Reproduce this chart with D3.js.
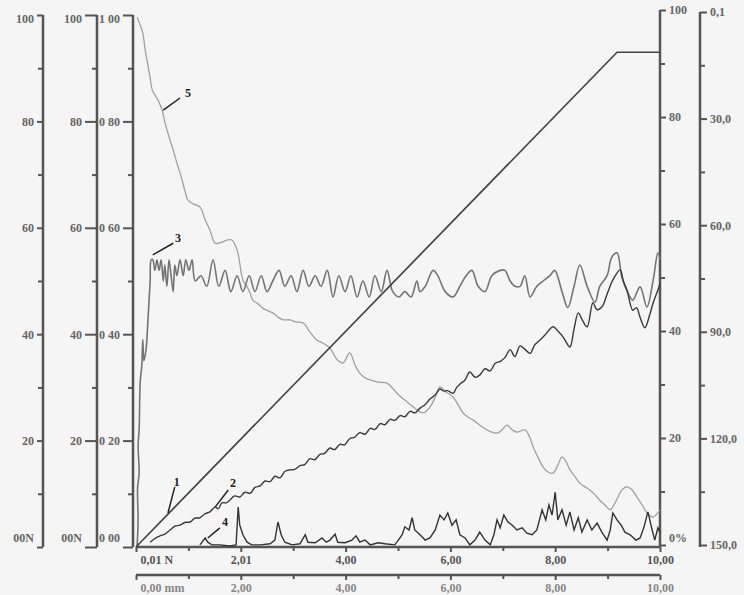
<!DOCTYPE html>
<html>
<head>
<meta charset="utf-8">
<script src="https://cdn.jsdelivr.net/npm/d3@7"></script>
<style>
body{margin:0;background:#f5f5f5}
svg{display:block}
text{font-family:"Liberation Serif","DejaVu Serif",serif;font-weight:bold}
</style>
</head>
<body>
<svg id="chart" width="744" height="595"></svg>
<script>
'use strict'

// tick values and labels
var leftMajor = [0,20,40,60,80,100];
var leftMinor = [10,30,50,70,90];
var leftLabels1 = ['00N','20','40','60','80','100'];
var leftLabels3 = ['0 00','0 20','0 40','0 60','0 80','1 00'];
var rightLabels1 = ['0%','20','40','60','80','100'];
var angleMajor = [0,30,60,90,120,150];
var angleMinor = [15,45,75,105,135];
var angleLabels = ['0,1','30,0','60,0','90,0','120,0','150,0'];
var xMajor = [0,2,4,6,8,10];
var xMinor = [1,3,5,7,9];
var xLabelsN = ['0,01 N','2,01','4,00','6,00','8,00','10,00'];
var xLabelsMm = ['0,00 mm','2,00','4,00','6,00','8,00','10,00'];

// curves, x in mm, y in % of scale
var curve1 = [[0,0],[9.18,93],[10,93]];
var curve2 = [[0.27,0.9],[0.36,1.6],[0.46,2.1],[0.55,2.4],[0.65,3.2],[0.74,3.9],[0.84,4.1],[0.93,4.6],[1.03,4.7],[1.12,5.4],[1.22,5.5],[1.31,6.2],[1.41,6.6],[1.51,7.5],[1.57,7.2],[1.64,8.3],[1.72,8.3],[1.79,8.8],[1.88,9.6],[1.98,9.4],[2.08,10.3],[2.18,10.1],[2.27,11.2],[2.37,11.5],[2.46,12.4],[2.56,12.3],[2.65,13.3],[2.75,13.0],[2.84,14.2],[2.94,14.5],[3.03,14.6],[3.13,15.3],[3.22,15.5],[3.32,16.6],[3.41,16.4],[3.51,17.4],[3.60,17.6],[3.70,18.6],[3.79,18.3],[3.89,19.3],[3.98,19.2],[4.08,20.4],[4.17,20.6],[4.27,21.5],[4.37,21.2],[4.47,22.3],[4.56,22.1],[4.66,23.2],[4.75,23.0],[4.85,24.0],[4.94,23.8],[5.04,24.7],[5.13,24.5],[5.23,25.5],[5.32,25.2],[5.42,26.1],[5.52,26.8],[5.61,27.8],[5.71,28.6],[5.80,29.7],[5.87,29.3],[5.94,29.4],[6.05,28.9],[6.12,30.0],[6.18,30.6],[6.28,31.4],[6.37,32.9],[6.47,31.9],[6.56,32.3],[6.66,33.5],[6.76,33.1],[6.85,34.5],[6.95,34.9],[7.04,35.6],[7.14,37.1],[7.23,35.8],[7.33,37.8],[7.42,37.2],[7.52,36.4],[7.61,38.0],[7.71,38.9],[7.80,39.8],[7.96,41.4],[8.05,40.6],[8.15,39.5],[8.28,37.6],[8.36,41.0],[8.44,44.0],[8.52,42.6],[8.61,41.4],[8.72,45.9],[8.80,44.6],[8.89,45.1],[9.00,47.8],[9.10,50.2],[9.24,52.1],[9.30,50.0],[9.37,48.3],[9.48,44.5],[9.55,45.0],[9.62,43.2],[9.71,41.2],[9.80,43.5],[9.87,45.9],[9.96,48.3],[10.0,49.5]];
var curve3 = [[0.02,0],[0.04,5],[0.03,11],[0.06,14],[0.04,19],[0.06,22],[0.08,31],[0.11,34],[0.13,39],[0.15,35],[0.19,37],[0.23,43],[0.27,50],[0.29,54],[0.32,54],[0.36,52],[0.40,54],[0.44,52],[0.48,54],[0.52,50],[0.55,53],[0.59,49],[0.63,54],[0.67,51],[0.71,48],[0.74,53],[0.78,51],[0.84,54],[0.90,51],[0.95,54],[1.01,52],[1.07,54],[1.13,50],[1.24,51],[1.35,49],[1.47,54],[1.58,49],[1.70,52],[1.81,48],[1.93,51],[2.04,48],[2.16,51],[2.27,48],[2.39,51],[2.50,48],[2.61,50],[2.73,52],[2.84,49],[2.96,51],[3.07,48],[3.19,52],[3.30,49],[3.42,51],[3.53,49],[3.65,52],[3.76,47],[3.87,51],[3.99,48],[4.10,51],[4.22,47],[4.33,50],[4.45,47],[4.56,51],[4.68,48],[4.79,52],[4.90,48],[5.02,47],[5.13,48],[5.25,47],[5.36,50],[5.42,48],[5.52,49],[5.67,52],[5.76,51],[5.90,48],[6.05,47],[6.18,49],[6.30,51],[6.41,52],[6.53,49],[6.66,48],[6.79,51],[6.95,52],[7.04,52],[7.14,50],[7.23,49],[7.33,49],[7.42,51],[7.52,47],[7.65,49],[7.77,50],[7.90,51],[7.99,52],[8.13,48],[8.24,45],[8.36,49],[8.47,53],[8.61,49],[8.76,46],[8.85,49],[8.99,51],[9.08,54.5],[9.18,55.3],[9.27,50.8],[9.39,47.7],[9.48,46.4],[9.62,48.9],[9.75,45.1],[9.87,50.2],[9.96,55.3],[10.0,54]];
var curve4 = [[1.22,0.4],[1.32,1.7],[1.37,0.9],[1.45,0.4],[1.60,0.4],[1.79,0.2],[1.91,0.4],[1.95,7.5],[1.98,4.1],[2.04,2.3],[2.12,0.9],[2.21,0.4],[2.37,0.4],[2.56,0.6],[2.65,1.3],[2.71,4.7],[2.77,2.3],[2.84,0.9],[2.98,0.4],[3.13,0.6],[3.23,2.3],[3.28,0.9],[3.42,0.8],[3.55,1.7],[3.63,0.9],[3.70,1.3],[3.80,2.4],[3.85,0.9],[3.99,0.8],[4.12,1.3],[4.20,2.1],[4.27,0.9],[4.37,1.3],[4.47,0.4],[4.62,0.8],[4.75,0.6],[4.94,0.4],[5.08,2.3],[5.13,3.8],[5.21,3.2],[5.27,5.5],[5.32,3.2],[5.42,2.3],[5.52,1.3],[5.61,1.7],[5.71,3.2],[5.80,6.0],[5.88,5.1],[5.95,6.4],[6.03,4.1],[6.11,5.1],[6.18,2.3],[6.28,1.7],[6.37,0.4],[6.47,1.3],[6.56,2.8],[6.66,1.3],[6.76,0.4],[6.83,2.3],[6.89,5.1],[6.95,3.6],[7.02,6.0],[7.10,4.7],[7.18,4.1],[7.27,3.2],[7.37,3.6],[7.46,2.6],[7.56,2.3],[7.65,3.2],[7.75,7.0],[7.82,5.1],[7.88,7.9],[7.94,6.0],[8.00,10.3],[8.05,5.1],[8.13,7.0],[8.21,4.1],[8.28,6.6],[8.36,3.2],[8.44,5.5],[8.51,2.8],[8.61,5.1],[8.70,3.2],[8.80,4.5],[8.89,2.8],[8.99,1.3],[9.05,3.2],[9.10,6.4],[9.18,5.1],[9.26,4.1],[9.33,2.8],[9.43,2.3],[9.54,1.3],[9.62,1.7],[9.69,3.6],[9.77,6.6],[9.85,3.2],[9.90,1.3],[9.96,3.6],[10.0,2.8]];
var curve5 = [[0.02,99.6],[0.08,98.1],[0.13,96.6],[0.17,93.8],[0.21,91.5],[0.27,88.2],[0.31,85.9],[0.36,85.0],[0.42,84.0],[0.50,82.1],[0.55,79.9],[0.59,78.4],[0.65,76.5],[0.71,74.6],[0.78,72.2],[0.88,69.0],[0.94,66.7],[0.99,65.2],[1.09,64.5],[1.22,63.9],[1.32,61.5],[1.41,59.6],[1.51,57.1],[1.64,57.3],[1.74,57.7],[1.83,57.7],[1.93,55.8],[2.04,50.2],[2.12,48.9],[2.18,47.7],[2.23,46.4],[2.33,45.7],[2.42,44.9],[2.52,44.4],[2.61,44.0],[2.71,43.2],[2.81,42.7],[2.94,42.7],[3.05,42.3],[3.19,42.1],[3.32,40.4],[3.45,38.9],[3.57,38.3],[3.70,37.4],[3.84,35.2],[3.95,34.6],[4.08,36.5],[4.18,34.2],[4.27,32.7],[4.37,31.8],[4.47,31.4],[4.62,31.0],[4.79,30.8],[4.89,29.9],[4.98,28.9],[5.08,28.0],[5.17,27.3],[5.27,26.5],[5.36,25.8],[5.48,25.2],[5.61,26.3],[5.73,28.6],[5.80,30.1],[5.92,29.1],[6.05,28.2],[6.15,26.7],[6.24,25.2],[6.34,24.4],[6.43,23.9],[6.56,22.9],[6.70,22.0],[6.79,21.6],[6.89,21.4],[6.98,22.0],[7.08,22.9],[7.18,22.0],[7.27,21.6],[7.42,22.0],[7.52,20.5],[7.58,18.8],[7.67,16.9],[7.77,15.0],[7.86,14.1],[7.96,13.9],[8.05,15.4],[8.13,16.9],[8.21,16.0],[8.28,14.5],[8.38,13.2],[8.47,12.0],[8.57,11.3],[8.66,10.7],[8.76,9.8],[8.85,8.8],[8.95,7.9],[9.05,7.0],[9.12,7.9],[9.20,9.4],[9.27,10.7],[9.37,11.3],[9.47,10.7],[9.56,9.4],[9.66,7.9],[9.75,6.4],[9.87,5.6],[9.94,6.2],[10.0,7.0]];

// curve number callouts: label, text point, pointer start, pointer end
var callouts = [
  ['1',[0.78,12.2],[0.74,11.3],[0.61,6.4]],
  ['2',[1.85,12.0],[1.76,10.7],[1.51,7.5]],
  ['3',[0.80,58.1],[0.71,57.1],[0.32,54.9]],
  ['4',[1.70,4.7],[1.60,3.6],[1.37,1.7]],
  ['5',[0.99,85.3],[0.84,84.4],[0.52,82.1]]
];

var svg = d3.select('#chart');
svg.append('rect').attr('width',744).attr('height',595).attr('fill','#f5f5f5');

var x = d3.scaleLinear().domain([0,10]).range([136,660]);
var y = d3.scaleLinear().domain([0,100]).range([547,15]);
var y3 = d3.scaleLinear().domain([0,1]).range([547,15]);
var yR = d3.scaleLinear().domain([0,100]).range([545,10]);
var yA = d3.scaleLinear().domain([0,150]).range([12,545]);

var axisColor = '#555';

function styleAxis(g, color){
	g.select('.domain').remove();
	g.selectAll('.tick line').attr('stroke',axisColor).attr('stroke-width',2);
	g.selectAll('.tick text').attr('fill',color).style('font-size','12px');
}

function vAxis(xPos, scale, major, minor, labels, side, majorSize, shift){
	var mk = side=='left' ? d3.axisLeft : d3.axisRight;
	var g = svg.append('g').attr('transform','translate('+xPos+',0)');
	g.call(mk(scale).tickValues(major).tickSize(majorSize).tickPadding(3)
		.tickFormat(function(d,i){return labels[i];}));
	styleAxis(g,'#666');
	var gm = svg.append('g').attr('transform','translate('+xPos+',0)');
	gm.call(mk(scale).tickValues(minor).tickSize(5).tickFormat(''));
	styleAxis(gm,'#666');
	var r = scale.range();
	svg.append('line').attr('x1',xPos).attr('x2',xPos)
		.attr('y1',Math.min(r[0],r[1])).attr('y2',Math.max(r[0],r[1],547))
		.attr('stroke',axisColor).attr('stroke-width',2.5);
	g.selectAll('.tick text').attr('dy',function(d,i){
		return shift[i] ? shift[i] : '0.32em';
	});
	return g;
}

vAxis(43, y, leftMajor, leftMinor, leftLabels1, 'left', 6, {0:'-0.5em',5:'0.6em'});
vAxis(97, y, leftMajor, leftMinor, leftLabels1, 'left', 12, {0:'-0.5em',5:'0.6em'});
vAxis(133, y3, [0,0.2,0.4,0.6,0.8,1], [0.1,0.3,0.5,0.7,0.9], leftLabels3, 'left', 10, {0:'-0.5em',5:'0.6em'});
vAxis(660, yR, leftMajor, leftMinor, rightLabels1, 'right', 6, {0:'-0.3em',5:'0.3em'});
vAxis(700, yA, angleMajor, angleMinor, angleLabels, 'right', 7, {0:'0.3em'});

function hAxis(yPos, labels, color){
	var g = svg.append('g').attr('transform','translate(0,'+yPos+')');
	g.call(d3.axisBottom(x).tickValues(xMajor).tickSize(5).tickPadding(3)
		.tickFormat(function(d,i){return labels[i];}));
	styleAxis(g,color);
	g.selectAll('.tick text').attr('text-anchor',function(d){return d===0?'start':'middle';})
		.attr('dx',function(d){return d===0?4:0;});
	var gm = svg.append('g').attr('transform','translate(0,'+yPos+')');
	gm.call(d3.axisBottom(x).tickValues(xMinor).tickSize(4).tickFormat(''));
	styleAxis(gm,color);
	svg.append('line').attr('x1',x(0)).attr('x2',x(10)).attr('y1',yPos).attr('y2',yPos)
		.attr('stroke',axisColor).attr('stroke-width',2.5);
}
hAxis(547, xLabelsN, '#555');
hAxis(575, xLabelsMm, '#888');

var line = d3.line().x(function(d){return x(d[0]);}).y(function(d){return y(d[1]);});
var smooth = d3.line().curve(d3.curveCatmullRom.alpha(0.5))
	.x(function(d){return x(d[0]);}).y(function(d){return y(d[1]);});

svg.append('path').datum(curve5).attr('d',smooth).attr('fill','none')
	.attr('stroke','#a0a0a0').attr('stroke-width',1.3);
svg.append('path').datum(curve3).attr('d',smooth).attr('fill','none')
	.attr('stroke','#747474').attr('stroke-width',1.6);
svg.append('path').datum(curve2).attr('d',smooth).attr('fill','none')
	.attr('stroke','#3a3a3a').attr('stroke-width',1.4);
svg.append('path').datum(curve4).attr('d',line).attr('fill','none')
	.attr('stroke','#333').attr('stroke-width',1.4);
svg.append('path').datum(curve1).attr('d',line).attr('fill','none')
	.attr('stroke','#444').attr('stroke-width',1.7);

for(var c = 0;c<callouts.length;c++){
	var co = callouts[c];
	svg.append('line')
		.attr('x1',x(co[2][0])).attr('y1',y(co[2][1]))
		.attr('x2',x(co[3][0])).attr('y2',y(co[3][1]))
		.attr('stroke','#222').attr('stroke-width',1.5);
	svg.append('text')
		.attr('x',x(co[1][0])).attr('y',y(co[1][1]))
		.attr('text-anchor','middle').attr('dy','0.35em')
		.style('font-size','12px').attr('fill','#222')
		.text(co[0]);
}
</script>
</body>
</html>
